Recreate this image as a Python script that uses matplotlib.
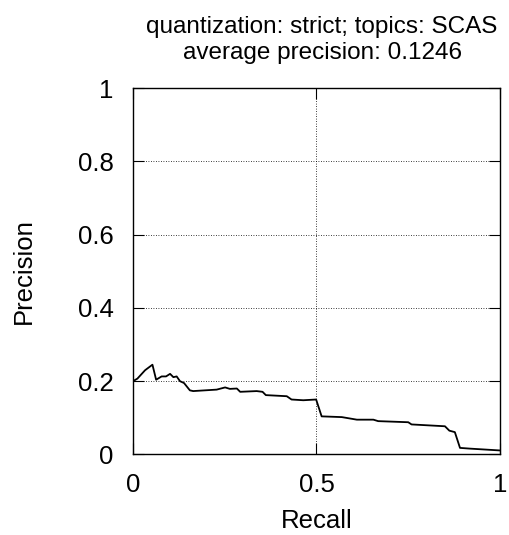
import matplotlib
matplotlib.use('Agg')
import matplotlib.pyplot as plt

plt.rcParams['font.family'] = ['Liberation Sans', 'DejaVu Sans']

# Dados
recall = [0.0, 0.012, 0.033, 0.053, 0.063, 0.078, 0.090, 0.101, 0.110, 0.119,
          0.128, 0.139, 0.155, 0.164, 0.228, 0.251, 0.264, 0.283, 0.292, 0.337,
          0.353, 0.362, 0.419, 0.432, 0.464, 0.499, 0.514, 0.569, 0.610, 0.655,
          0.668, 0.750, 0.759, 0.850, 0.862, 0.877, 0.891, 0.918, 1.0]
precision = [0.200, 0.207, 0.230, 0.245, 0.204, 0.213, 0.213, 0.220, 0.211, 0.213,
             0.200, 0.195, 0.175, 0.173, 0.177, 0.183, 0.179, 0.180, 0.171, 0.173,
             0.171, 0.162, 0.159, 0.150, 0.148, 0.150, 0.104, 0.102, 0.095, 0.095,
             0.091, 0.088, 0.082, 0.077, 0.065, 0.061, 0.018, 0.016, 0.011]
xticks = [0, 0.5, 1]
xlabels = ['0', '0.5', '1']
yticks = [0, 0.2, 0.4, 0.6, 0.8, 1]
ylabels = ['0', '0.2', '0.4', '0.6', '0.8', '1']

fig = plt.figure(figsize=(5.09, 5.35), dpi=100)
ax = fig.add_axes([0.2613, 0.1505, 0.7210, 0.6850])
ax.plot(recall, precision, color='black', lw=1.3)
ax.set_xlim(0, 1)
ax.set_ylim(0, 1)
ax.set_xticks(xticks, xlabels)
ax.set_yticks(yticks, ylabels)
ax.tick_params(direction='in', length=8, width=0.8, labelsize=18.5,
               top=True, right=True)
ax.tick_params(axis='x', pad=13)
ax.tick_params(axis='y', pad=14)
ax.grid(True, color='black', linestyle=(0, (1, 2)), linewidth=0.6)
for s in ax.spines.values():
    s.set_linewidth(1.0)
ax.set_xlabel('Recall', fontsize=18.5, labelpad=9)
ax.set_ylabel('Precision', fontsize=18.5, labelpad=30)
ax.set_title('quantization: strict; topics: SCAS\naverage precision: 0.1246',
             fontsize=17.5, pad=21, linespacing=1.25, x=0.515)

fig.savefig('out.png', dpi=100)
